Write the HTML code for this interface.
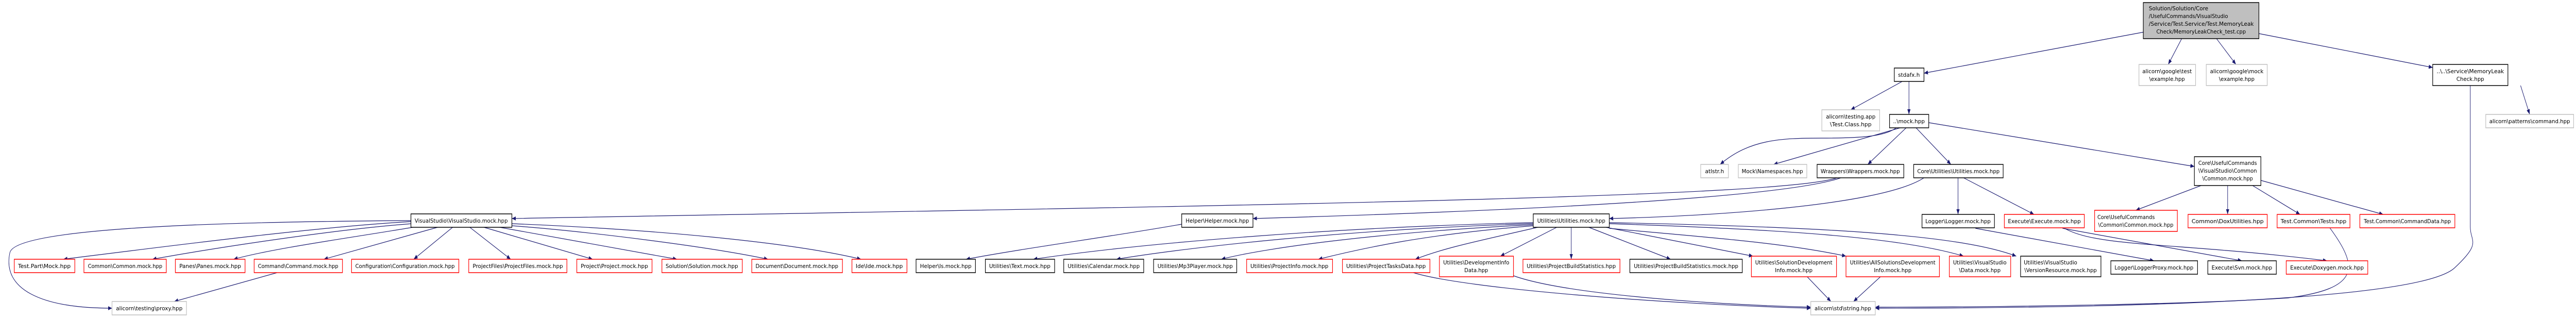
<!DOCTYPE html>
<html><head><meta charset="utf-8"><style>
html,body{margin:0;padding:0;background:#fff;width:100%;height:100%;overflow:hidden;}
svg{display:block;width:100vw;height:100vh;}
.n rect{fill:#fff;stroke-width:1.5;}
.b rect{stroke:#000;}
.r rect{stroke:#ff0000;}
.g rect{stroke:#bfbfbf;}
.t rect{fill:#bfbfbf;stroke:#000;}
text{font-family:"DejaVu Sans","Liberation Sans",sans-serif;font-size:11px;fill:#000;}
.e{fill:none;stroke:#191970;stroke-width:1.2;}
</style></head><body>
<svg viewBox="0 0 6507 617" preserveAspectRatio="none" xmlns="http://www.w3.org/2000/svg">
<defs><marker id="a" markerWidth="10" markerHeight="8" refX="10" refY="4" orient="auto" markerUnits="userSpaceOnUse"><path d="M0,0 L10,4 L0,8 z" fill="#191970"/></marker></defs>
<g class="e" marker-end="url(#a)">
<path d="M5417 62 L4860 142"/>
<path d="M5511 75 L5477 125"/>
<path d="M5599 75 L5648 125"/>
<path d="M5705 65 L6145 131"/>
<path d="M4805 158 L4675 213"/>
<path d="M4822 158 L4822 222"/>
<path d="M4790 248 C4760 265 4700 268 4600 268 C4500 268 4420 270 4345 319"/>
<path d="M4800 248 L4480 319"/>
<path d="M4815 248 L4718 319"/>
<path d="M4840 248 L4928 319"/>
<path d="M4872 238 L5543 323"/>
<path d="M6367 166 L6390 222"/>
<path d="M6240 166 L6240 440 C6240 470 6270 470 6200 520 C6100 590 5200 598 4737 598"/>
<path d="M5885 442 C5960 520 5960 560 5780 578 C5500 592 5000 596 4737 596"/>
<path d="M4640 345 C4500 385 3000 400 1293 424"/>
<path d="M4650 345 C4500 385 3800 410 3165 424"/>
<path d="M4860 345 C4750 400 4300 420 4065 424"/>
<path d="M4946 345 L4946 416"/>
<path d="M4960 345 L5138 416"/>
<path d="M4990 443 L5441 506"/>
<path d="M5210 443 L5663 506"/>
<path d="M5215 443 C5300 480 5500 470 5878 506"/>
<path d="M5560 360 L5395 408"/>
<path d="M5627 360 L5627 416"/>
<path d="M5690 360 L5810 416"/>
<path d="M5711 350 L6020 416"/>
<path d="M2985 435 C2800 460 2600 480 2440 503"/>
<path d="M3873 432 C3400 440 2900 470 2610 503"/>
<path d="M3873 434 C3400 445 3000 480 2820 503"/>
<path d="M3873 436 C3500 450 3200 480 3085 503"/>
<path d="M3873 438 C3600 455 3450 480 3330 503"/>
<path d="M3890 440 C3750 465 3650 480 3575 503"/>
<path d="M3935 440 L3790 497"/>
<path d="M3969 440 L3969 503"/>
<path d="M4010 440 L4220 503"/>
<path d="M4050 440 L4428 497"/>
<path d="M4065 443 C4300 460 4500 470 4663 497"/>
<path d="M4065 434 C4500 445 4800 460 4960 497"/>
<path d="M4065 432 C4600 440 4950 455 5093 497"/>
<path d="M3570 529 C3700 560 4200 590 4574 598"/>
<path d="M3823 535 C3950 570 4300 590 4574 596"/>
<path d="M4565 537 L4625 585"/>
<path d="M4750 537 L4682 585"/>
<path d="M1038 430 C800 440 400 480 160 503"/>
<path d="M1040 434 C850 445 550 480 385 503"/>
<path d="M1050 440 C900 460 700 480 590 503"/>
<path d="M1110 440 L818 503"/>
<path d="M1145 440 L1045 503"/>
<path d="M1185 440 L1290 503"/>
<path d="M1218 440 L1497 503"/>
<path d="M1255 440 L1710 503"/>
<path d="M1293 438 C1500 450 1800 480 1940 503"/>
<path d="M1293 434 C1650 445 2000 470 2175 503"/>
<path d="M1038 428 C600 430 40 440 25 490 C5 560 100 598 283 598"/>
<path d="M700 529 L440 585"/>
</g>
<g class="n t"><rect x="5414" y="5" width="292" height="70"/>
<text x="5428" y="20" textLength="150" lengthAdjust="spacingAndGlyphs">Solution/Solution/Core</text>
<text x="5428" y="35" textLength="200" lengthAdjust="spacingAndGlyphs">/UsefulCommands/VisualStudio</text>
<text x="5428" y="50" textLength="265" lengthAdjust="spacingAndGlyphs">/Service/Test.Service/Test.MemoryLeak</text>
<text x="5560" y="65" text-anchor="middle" textLength="226" lengthAdjust="spacingAndGlyphs">Check/MemoryLeakCheck_test.cpp</text></g>
<g class="n g"><rect x="5403" y="125" width="143" height="41"/><text x="5474" y="142" text-anchor="middle" textLength="125" lengthAdjust="spacingAndGlyphs">alicorn\google\test</text><text x="5474" y="157" text-anchor="middle" textLength="90" lengthAdjust="spacingAndGlyphs">\example.hpp</text></g>
<g class="n g"><rect x="5573" y="125" width="154" height="41"/><text x="5650" y="142" text-anchor="middle" textLength="135" lengthAdjust="spacingAndGlyphs">alicorn\google\mock</text><text x="5650" y="157" text-anchor="middle" textLength="90" lengthAdjust="spacingAndGlyphs">\example.hpp</text></g>
<g class="n b"><rect x="6145" y="125" width="190" height="41"/><text x="6240" y="142" text-anchor="middle" textLength="170" lengthAdjust="spacingAndGlyphs">..\..\Service\MemoryLeak</text><text x="6240" y="157" text-anchor="middle" textLength="70" lengthAdjust="spacingAndGlyphs">Check.hpp</text></g>
<g class="n b"><rect x="4785" y="132" width="75" height="26"/><text x="4822" y="149" text-anchor="middle" textLength="55" lengthAdjust="spacingAndGlyphs">stdafx.h</text></g>
<g class="n g"><rect x="4602" y="213" width="146" height="41"/><text x="4675" y="230" text-anchor="middle" textLength="125" lengthAdjust="spacingAndGlyphs">alicorn\testing.app</text><text x="4675" y="245" text-anchor="middle" textLength="105" lengthAdjust="spacingAndGlyphs">\Test.Class.hpp</text></g>
<g class="n b"><rect x="4773" y="222" width="99" height="26"/><text x="4822" y="239" text-anchor="middle" textLength="80" lengthAdjust="spacingAndGlyphs">..\mock.hpp</text></g>
<g class="n g"><rect x="6279" y="222" width="222" height="26"/><text x="6390" y="239" text-anchor="middle" textLength="204" lengthAdjust="spacingAndGlyphs">alicorn\patterns\command.hpp</text></g>
<g class="n g"><rect x="4296" y="319" width="70" height="26"/><text x="4331" y="336" text-anchor="middle" textLength="48" lengthAdjust="spacingAndGlyphs">atlstr.h</text></g>
<g class="n g"><rect x="4391" y="319" width="173" height="26"/><text x="4477" y="336" text-anchor="middle" textLength="155" lengthAdjust="spacingAndGlyphs">Mock\Namespaces.hpp</text></g>
<g class="n b"><rect x="4590" y="319" width="219" height="26"/><text x="4699" y="336" text-anchor="middle" textLength="200" lengthAdjust="spacingAndGlyphs">Wrappers\Wrappers.mock.hpp</text></g>
<g class="n b"><rect x="4834" y="319" width="226" height="26"/><text x="4947" y="336" text-anchor="middle" textLength="208" lengthAdjust="spacingAndGlyphs">Core\Utilities\Utilities.mock.hpp</text></g>
<g class="n b"><rect x="5543" y="304" width="168" height="56"/><text x="5627" y="320" text-anchor="middle" textLength="148" lengthAdjust="spacingAndGlyphs">Core\UsefulCommands</text><text x="5627" y="335" text-anchor="middle" textLength="148" lengthAdjust="spacingAndGlyphs">\VisualStudio\Common</text><text x="5627" y="350" text-anchor="middle" textLength="128" lengthAdjust="spacingAndGlyphs">\Common.mock.hpp</text></g>
<g class="n b"><rect x="1038" y="415" width="255" height="26"/><text x="1165" y="432" text-anchor="middle" textLength="235" lengthAdjust="spacingAndGlyphs">VisualStudio\VisualStudio.mock.hpp</text></g>
<g class="n b"><rect x="2985" y="415" width="180" height="26"/><text x="3075" y="432" text-anchor="middle" textLength="160" lengthAdjust="spacingAndGlyphs">Helper\Helper.mock.hpp</text></g>
<g class="n b"><rect x="3873" y="415" width="192" height="26"/><text x="3969" y="432" text-anchor="middle" textLength="172" lengthAdjust="spacingAndGlyphs">Utilities\Utilities.mock.hpp</text></g>
<g class="n b"><rect x="4855" y="416" width="183" height="26"/><text x="4946" y="433" text-anchor="middle" textLength="165" lengthAdjust="spacingAndGlyphs">Logger\Logger.mock.hpp</text></g>
<g class="n r"><rect x="5063" y="416" width="202" height="26"/><text x="5164" y="433" text-anchor="middle" textLength="184" lengthAdjust="spacingAndGlyphs">Execute\Execute.mock.hpp</text></g>
<g class="n r"><rect x="5291" y="408" width="209" height="41"/><text x="5298" y="425" textLength="145" lengthAdjust="spacingAndGlyphs">Core\UsefulCommands</text><text x="5395" y="440" text-anchor="middle" textLength="190" lengthAdjust="spacingAndGlyphs">\Common\Common.mock.hpp</text></g>
<g class="n r"><rect x="5527" y="416" width="200" height="26"/><text x="5627" y="433" text-anchor="middle" textLength="182" lengthAdjust="spacingAndGlyphs">Common\DoxUtilities.hpp</text></g>
<g class="n r"><rect x="5752" y="416" width="184" height="26"/><text x="5844" y="433" text-anchor="middle" textLength="166" lengthAdjust="spacingAndGlyphs">Test.Common\Tests.hpp</text></g>
<g class="n r"><rect x="5961" y="416" width="240" height="26"/><text x="6081" y="433" text-anchor="middle" textLength="220" lengthAdjust="spacingAndGlyphs">Test.Common\CommandData.hpp</text></g>
<g class="n r"><rect x="36" y="503" width="153" height="26"/><text x="112" y="520" text-anchor="middle" textLength="133" lengthAdjust="spacingAndGlyphs">Test.Part\Mock.hpp</text></g>
<g class="n r"><rect x="212" y="503" width="208" height="26"/><text x="316" y="520" text-anchor="middle" textLength="188" lengthAdjust="spacingAndGlyphs">Common\Common.mock.hpp</text></g>
<g class="n r"><rect x="443" y="503" width="176" height="26"/><text x="531" y="520" text-anchor="middle" textLength="156" lengthAdjust="spacingAndGlyphs">Panes\Panes.mock.hpp</text></g>
<g class="n r"><rect x="642" y="503" width="223" height="26"/><text x="753" y="520" text-anchor="middle" textLength="203" lengthAdjust="spacingAndGlyphs">Command\Command.mock.hpp</text></g>
<g class="n r"><rect x="888" y="503" width="271" height="26"/><text x="1023" y="520" text-anchor="middle" textLength="251" lengthAdjust="spacingAndGlyphs">Configuration\Configuration.mock.hpp</text></g>
<g class="n r"><rect x="1184" y="503" width="248" height="26"/><text x="1308" y="520" text-anchor="middle" textLength="228" lengthAdjust="spacingAndGlyphs">ProjectFiles\ProjectFiles.mock.hpp</text></g>
<g class="n r"><rect x="1457" y="503" width="190" height="26"/><text x="1552" y="520" text-anchor="middle" textLength="170" lengthAdjust="spacingAndGlyphs">Project\Project.mock.hpp</text></g>
<g class="n r"><rect x="1672" y="503" width="203" height="26"/><text x="1773" y="520" text-anchor="middle" textLength="183" lengthAdjust="spacingAndGlyphs">Solution\Solution.mock.hpp</text></g>
<g class="n r"><rect x="1899" y="503" width="229" height="26"/><text x="2013" y="520" text-anchor="middle" textLength="209" lengthAdjust="spacingAndGlyphs">Document\Document.mock.hpp</text></g>
<g class="n r"><rect x="2152" y="503" width="139" height="26"/><text x="2221" y="520" text-anchor="middle" textLength="119" lengthAdjust="spacingAndGlyphs">Ide\Ide.mock.hpp</text></g>
<g class="n b"><rect x="2314" y="503" width="150" height="26"/><text x="2389" y="520" text-anchor="middle" textLength="130" lengthAdjust="spacingAndGlyphs">Helper\Is.mock.hpp</text></g>
<g class="n b"><rect x="2489" y="503" width="175" height="26"/><text x="2576" y="520" text-anchor="middle" textLength="155" lengthAdjust="spacingAndGlyphs">Utilities\Text.mock.hpp</text></g>
<g class="n b"><rect x="2687" y="503" width="202" height="26"/><text x="2788" y="520" text-anchor="middle" textLength="182" lengthAdjust="spacingAndGlyphs">Utilities\Calendar.mock.hpp</text></g>
<g class="n b"><rect x="2914" y="503" width="210" height="26"/><text x="3019" y="520" text-anchor="middle" textLength="190" lengthAdjust="spacingAndGlyphs">Utilities\Mp3Player.mock.hpp</text></g>
<g class="n r"><rect x="3149" y="503" width="217" height="26"/><text x="3257" y="520" text-anchor="middle" textLength="197" lengthAdjust="spacingAndGlyphs">Utilities\ProjectInfo.mock.hpp</text></g>
<g class="n r"><rect x="3391" y="503" width="221" height="26"/><text x="3501" y="520" text-anchor="middle" textLength="201" lengthAdjust="spacingAndGlyphs">Utilities\ProjectTasksData.hpp</text></g>
<g class="n r"><rect x="3636" y="497" width="187" height="40"/><text x="3729" y="513" text-anchor="middle" textLength="167" lengthAdjust="spacingAndGlyphs">Utilities\DevelopmentInfo</text><text x="3729" y="528" text-anchor="middle" textLength="60" lengthAdjust="spacingAndGlyphs">Data.hpp</text></g>
<g class="n r"><rect x="3847" y="503" width="245" height="26"/><text x="3969" y="520" text-anchor="middle" textLength="225" lengthAdjust="spacingAndGlyphs">Utilities\ProjectBuildStatistics.hpp</text></g>
<g class="n b"><rect x="4117" y="503" width="284" height="26"/><text x="4259" y="520" text-anchor="middle" textLength="264" lengthAdjust="spacingAndGlyphs">Utilities\ProjectBuildStatistics.mock.hpp</text></g>
<g class="n r"><rect x="4424" y="497" width="215" height="40"/><text x="4531" y="513" text-anchor="middle" textLength="195" lengthAdjust="spacingAndGlyphs">Utilities\SolutionDevelopment</text><text x="4531" y="528" text-anchor="middle" textLength="95" lengthAdjust="spacingAndGlyphs">Info.mock.hpp</text></g>
<g class="n r"><rect x="4663" y="497" width="236" height="40"/><text x="4781" y="513" text-anchor="middle" textLength="216" lengthAdjust="spacingAndGlyphs">Utilities\AllSolutionsDevelopment</text><text x="4781" y="528" text-anchor="middle" textLength="95" lengthAdjust="spacingAndGlyphs">Info.mock.hpp</text></g>
<g class="n r"><rect x="4924" y="497" width="155" height="40"/><text x="5001" y="513" text-anchor="middle" textLength="135" lengthAdjust="spacingAndGlyphs">Utilities\VisualStudio</text><text x="5001" y="528" text-anchor="middle" textLength="105" lengthAdjust="spacingAndGlyphs">\Data.mock.hpp</text></g>
<g class="n b"><rect x="5104" y="497" width="203" height="40"/><text x="5112" y="513" textLength="135" lengthAdjust="spacingAndGlyphs">Utilities\VisualStudio</text><text x="5205" y="528" text-anchor="middle" textLength="183" lengthAdjust="spacingAndGlyphs">\VersionResource.mock.hpp</text></g>
<g class="n b"><rect x="5332" y="506" width="219" height="26"/><text x="5441" y="523" text-anchor="middle" textLength="199" lengthAdjust="spacingAndGlyphs">Logger\LoggerProxy.mock.hpp</text></g>
<g class="n b"><rect x="5577" y="506" width="173" height="26"/><text x="5663" y="523" text-anchor="middle" textLength="153" lengthAdjust="spacingAndGlyphs">Execute\Svn.mock.hpp</text></g>
<g class="n r"><rect x="5775" y="506" width="206" height="26"/><text x="5878" y="523" text-anchor="middle" textLength="186" lengthAdjust="spacingAndGlyphs">Execute\Doxygen.mock.hpp</text></g>
<g class="n g"><rect x="283" y="585" width="188" height="26"/><text x="377" y="602" text-anchor="middle" textLength="168" lengthAdjust="spacingAndGlyphs">alicorn\testing\proxy.hpp</text></g>
<g class="n g"><rect x="4574" y="585" width="163" height="26"/><text x="4655" y="602" text-anchor="middle" textLength="143" lengthAdjust="spacingAndGlyphs">alicorn\std\string.hpp</text></g>
</svg>
</body></html>
